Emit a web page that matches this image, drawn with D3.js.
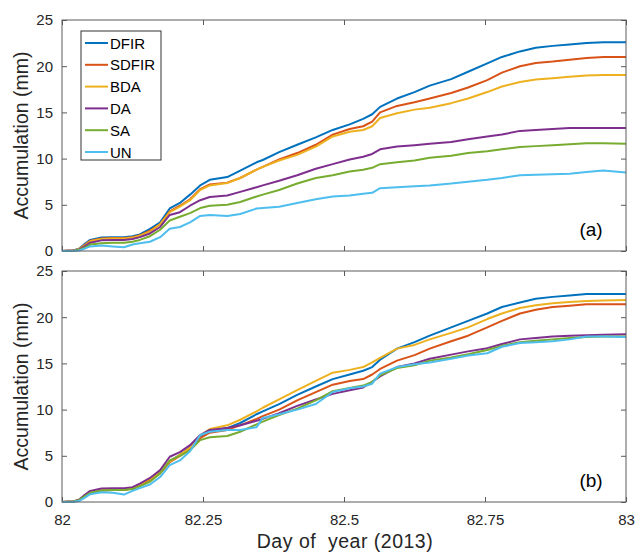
<!DOCTYPE html>
<html>
<head>
<meta charset="utf-8">
<script src="https://cdn.jsdelivr.net/npm/d3@7"></script>
<style>
  html, body { margin: 0; padding: 0; background: #fff; }
  svg { display: block; font-family: "Liberation Sans", Arial, sans-serif; }
</style>
</head>
<body>
<svg id="chart" width="636" height="554"></svg>
<script>
// Shared sampling times (day of year 2013)
const days = [82.000, 82.020, 82.030, 82.040, 82.050, 82.070, 82.090, 82.110, 82.125, 82.138,
  82.156, 82.174, 82.191, 82.209, 82.227, 82.245, 82.262, 82.293, 82.316, 82.345,
  82.356, 82.385, 82.417, 82.450, 82.480, 82.510, 82.534, 82.550, 82.564, 82.594,
  82.625, 82.652, 82.690, 82.720, 82.754, 82.780, 82.812, 82.840, 82.870, 82.900,
  82.930, 82.960, 83.000];

const seriesNames = ["DFIR", "SDFIR", "BDA", "DA", "SA", "UN"];
const seriesColors = ["#0072BD", "#D95319", "#EDB120", "#7E2F8E", "#77AC30", "#4DBEEE"];

// Panel (a) accumulations, mm
const dfirA  = [0, 0.05, 0.25, 0.75, 1.2, 1.45, 1.5, 1.5, 1.6, 1.8, 2.4, 3.1, 4.6, 5.2, 6.1, 7.1, 7.7, 8.0, 8.7, 9.6, 9.85, 10.7, 11.5, 12.3, 13.1, 13.7, 14.3, 14.8, 15.6, 16.5, 17.2, 17.9, 18.6, 19.4, 20.3, 21.0, 21.6, 22.0, 22.2, 22.35, 22.5, 22.6, 22.6];
const sdfirA = [0, 0.05, 0.2, 0.65, 1.1, 1.35, 1.4, 1.4, 1.5, 1.7, 2.2, 2.9, 4.3, 4.9, 5.6, 6.7, 7.2, 7.4, 7.9, 8.8, 9.1, 9.9, 10.6, 11.5, 12.6, 13.2, 13.5, 14.0, 15.0, 15.7, 16.1, 16.5, 17.1, 17.7, 18.5, 19.3, 20.0, 20.35, 20.5, 20.7, 20.9, 21.0, 21.0];
const bdaA   = [0, 0.05, 0.2, 0.6, 1.05, 1.3, 1.35, 1.35, 1.45, 1.65, 2.1, 2.9, 4.2, 4.8, 5.5, 6.6, 7.1, 7.35, 7.9, 8.8, 9.1, 9.8, 10.4, 11.3, 12.4, 12.9, 13.1, 13.5, 14.4, 14.9, 15.3, 15.5, 16.0, 16.5, 17.2, 17.8, 18.3, 18.55, 18.7, 18.85, 19.0, 19.05, 19.05];
const daA    = [0, 0.05, 0.15, 0.5, 0.9, 1.15, 1.2, 1.2, 1.3, 1.5, 1.9, 2.6, 3.9, 4.2, 4.9, 5.5, 5.85, 6.0, 6.4, 6.9, 7.1, 7.6, 8.2, 8.9, 9.4, 9.9, 10.2, 10.5, 11.0, 11.3, 11.45, 11.6, 11.8, 12.1, 12.4, 12.6, 13.0, 13.1, 13.2, 13.3, 13.3, 13.3, 13.3];
const saA    = [0, 0.03, 0.1, 0.35, 0.7, 0.85, 0.9, 0.9, 1.0, 1.2, 1.6, 2.3, 3.3, 3.7, 4.1, 4.65, 4.9, 5.0, 5.3, 5.9, 6.1, 6.6, 7.3, 7.9, 8.2, 8.6, 8.8, 9.0, 9.4, 9.6, 9.8, 10.1, 10.3, 10.6, 10.8, 11.0, 11.25, 11.35, 11.45, 11.55, 11.65, 11.65, 11.6];
const unA    = [0, 0.02, 0.05, 0.25, 0.5, 0.6, 0.5, 0.4, 0.7, 0.85, 1.0, 1.5, 2.4, 2.6, 3.1, 3.8, 3.9, 3.8, 4.0, 4.6, 4.65, 4.8, 5.2, 5.6, 5.9, 6.0, 6.2, 6.3, 6.8, 6.9, 7.0, 7.1, 7.3, 7.5, 7.7, 7.9, 8.2, 8.25, 8.3, 8.35, 8.55, 8.7, 8.5];

// Panel (b) accumulations, mm
const dfirB  = [0, 0.05, 0.2, 0.6, 1.05, 1.3, 1.35, 1.35, 1.5, 1.9, 2.5, 3.2, 4.4, 5.1, 5.9, 7.1, 7.7, 8.0, 8.55, 9.5, 9.8, 10.6, 11.6, 12.5, 13.3, 13.8, 14.2, 14.6, 15.4, 16.6, 17.3, 18.0, 18.9, 19.6, 20.4, 21.1, 21.6, 22.0, 22.2, 22.35, 22.5, 22.5, 22.5];
const sdfirB = [0, 0.05, 0.2, 0.6, 1.0, 1.25, 1.3, 1.3, 1.45, 1.8, 2.4, 3.1, 4.3, 5.0, 5.7, 6.9, 7.5, 7.8, 8.3, 9.0, 9.3, 10.0, 11.0, 11.9, 12.7, 13.1, 13.3, 13.8, 14.4, 15.3, 15.9, 16.6, 17.4, 18.0, 18.9, 19.6, 20.4, 20.8, 21.1, 21.25, 21.4, 21.4, 21.4];
const bdaB   = [0, 0.05, 0.2, 0.6, 1.05, 1.3, 1.35, 1.35, 1.5, 1.9, 2.5, 3.2, 4.4, 5.1, 5.9, 7.2, 7.9, 8.3, 8.9, 9.8, 10.2, 11.1, 12.1, 13.1, 14.0, 14.3, 14.6, 15.1, 15.6, 16.6, 17.0, 17.6, 18.3, 18.9, 19.8, 20.4, 21.0, 21.3, 21.5, 21.65, 21.75, 21.8, 21.85];
const daB    = [0, 0.05, 0.25, 0.75, 1.2, 1.45, 1.5, 1.5, 1.6, 2.0, 2.6, 3.45, 4.9, 5.4, 6.15, 7.25, 7.8, 8.0, 8.3, 8.8, 9.0, 9.6, 10.4, 11.1, 11.7, 12.1, 12.4, 13.0, 13.6, 14.6, 15.0, 15.5, 15.95, 16.3, 16.65, 17.1, 17.6, 17.75, 17.9, 18.0, 18.05, 18.1, 18.15];
const saB    = [0, 0.05, 0.2, 0.6, 1.0, 1.25, 1.3, 1.3, 1.4, 1.7, 2.2, 3.1, 4.5, 5.0, 5.6, 6.7, 7.0, 7.15, 7.6, 8.4, 8.7, 9.4, 10.1, 11.0, 12.0, 12.35, 12.6, 13.0, 13.7, 14.5, 14.8, 15.3, 15.65, 16.0, 16.45, 16.9, 17.3, 17.45, 17.6, 17.75, 17.85, 17.9, 17.9];
const unB    = [0, 0.03, 0.1, 0.45, 0.85, 1.05, 1.0, 0.8, 1.2, 1.5, 1.9, 2.7, 4.0, 4.5, 5.5, 7.25, 7.6, 7.8, 7.8, 8.1, 9.1, 9.5, 10.0, 10.6, 11.9, 12.3, 12.5, 12.8, 13.9, 14.6, 14.9, 15.1, 15.5, 15.85, 16.1, 16.8, 17.2, 17.3, 17.4, 17.6, 17.9, 17.9, 17.85];

const yTicks = [0, 5, 10, 15, 20, 25];
const xTicks = [82, 82.25, 82.5, 82.75, 83];
const xTickLabels = ["82", "82.25", "82.5", "82.75", "83"];

const panels = [
  { series: [dfirA, sdfirA, bdaA, daA, saA, unA], top: 20, bottom: 251, tag: "(a)", legend: true, xLabels: false },
  { series: [dfirB, sdfirB, bdaB, daB, saB, unB], top: 271, bottom: 502, tag: "(b)", legend: false, xLabels: true }
];

const svg = d3.select("#chart");
const left = 62, right = 626;
const axisColor = "#262626";
const boxColor = "#5a5a5a";

const x = d3.scaleLinear().domain([82, 83]).range([left, right]);

panels.forEach((p, pi) => {
  const y = d3.scaleLinear().domain([0, 25]).range([p.bottom, p.top]);
  const g = svg.append("g");

  // Inward-facing ticks on all four sides
  const styleAxis = sel => {
    sel.select(".domain").remove();
    sel.selectAll(".tick line").attr("stroke", boxColor).attr("stroke-width", 1);
    sel.selectAll(".tick text").attr("fill", axisColor).style("font-size", "15px")
      .style("font-family", "'Liberation Sans', Arial, sans-serif");
  };

  g.append("g").attr("transform", `translate(${left},0)`)
    .call(d3.axisLeft(y).tickValues(yTicks).tickSize(-5).tickPadding(9).tickFormat(d3.format("d")))
    .call(styleAxis);
  g.append("g").attr("transform", `translate(${right},0)`)
    .call(d3.axisRight(y).tickValues(yTicks).tickSize(-5).tickFormat(""))
    .call(styleAxis);
  g.append("g").attr("transform", `translate(0,${p.top})`)
    .call(d3.axisTop(x).tickValues(xTicks).tickSize(-5).tickFormat(""))
    .call(styleAxis);
  g.append("g").attr("transform", `translate(0,${p.bottom})`)
    .call(d3.axisBottom(x).tickValues(xTicks).tickSize(-5).tickPadding(12)
      .tickFormat(p.xLabels ? (d, i) => xTickLabels[i] : ""))
    .call(styleAxis);

  // Data lines
  const line = d3.line().x((d, i) => x(days[i])).y(d => y(d));
  p.series.forEach((vals, si) => {
    g.append("path")
      .datum(vals)
      .attr("fill", "none")
      .attr("stroke", seriesColors[si])
      .attr("stroke-width", 2)
      .attr("stroke-linejoin", "round")
      .attr("d", line);
  });

  // Axes box
  g.append("rect")
    .attr("x", left).attr("y", p.top)
    .attr("width", right - left).attr("height", p.bottom - p.top)
    .attr("fill", "none").attr("stroke", boxColor).attr("stroke-width", 1);

  // Y-axis title
  g.append("text")
    .attr("transform", `translate(28,${(p.top + p.bottom) / 2}) rotate(-90)`)
    .attr("text-anchor", "middle")
    .attr("fill", axisColor)
    .style("font-size", "19.5px")
    .text("Accumulation (mm)");

  // Panel tag
  g.append("text")
    .attr("x", 591).attr("y", p.bottom - 15)
    .attr("text-anchor", "middle")
    .attr("fill", "#000")
    .style("font-size", "19px")
    .text(p.tag);

  if (p.legend) {
    const lg = g.append("g");
    lg.append("rect")
      .attr("x", 81).attr("y", 31).attr("width", 80).attr("height", 129)
      .attr("fill", "#fff").attr("stroke", "#333").attr("stroke-width", 1);
    seriesNames.forEach((name, i) => {
      const ry = 43 + i * 21.8;
      lg.append("line")
        .attr("x1", 85).attr("x2", 108).attr("y1", ry).attr("y2", ry)
        .attr("stroke", seriesColors[i]).attr("stroke-width", 2);
      lg.append("text")
        .attr("x", 110).attr("y", ry + 5.5)
        .attr("fill", "#000")
        .style("font-size", "15px")
        .text(name);
    });
  }
});

// Shared x-axis title
svg.append("text")
  .attr("x", (left + right) / 2 + 1).attr("y", 548)
  .attr("text-anchor", "middle")
  .attr("fill", axisColor)
  .style("font-size", "19.5px")
  .style("letter-spacing", "0.5px")
  .attr("xml:space", "preserve")
  .text("Day of  year (2013)");
</script>
</body>
</html>
